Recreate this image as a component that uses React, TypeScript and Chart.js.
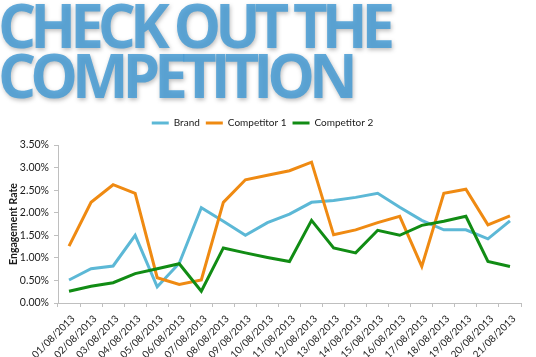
import React, { useEffect, useRef } from 'react';
import { Chart, registerables } from 'chart.js';

Chart.register(...registerables);

const categories = [
  '01/08/2013', '02/08/2013', '03/08/2013', '04/08/2013', '05/08/2013', '06/08/2013', '07/08/2013',
  '08/08/2013', '09/08/2013', '10/08/2013', '11/08/2013', '12/08/2013', '13/08/2013', '14/08/2013',
  '15/08/2013', '16/08/2013', '17/08/2013', '18/08/2013', '19/08/2013', '20/08/2013', '21/08/2013',
];

const brand = [0.51, 0.76, 0.82, 1.5, 0.36, 0.88, 2.11, 1.81, 1.5, 1.78, 1.97, 2.23, 2.27, 2.34, 2.43, 2.12, 1.83, 1.62, 1.62, 1.42, 1.82];
const competitor1 = [1.26, 2.23, 2.62, 2.43, 0.56, 0.41, 0.51, 2.23, 2.73, 2.83, 2.93, 3.12, 1.51, 1.62, 1.78, 1.92, 0.81, 2.43, 2.52, 1.73, 1.93];
const competitor2 = [0.26, 0.37, 0.45, 0.65, 0.76, 0.87, 0.26, 1.22, 1.11, 1.01, 0.92, 1.83, 1.22, 1.11, 1.61, 1.5, 1.72, 1.81, 1.92, 0.92, 0.81];

const seriesNames = ['Brand', 'Competitor 1', 'Competitor 2'];
const yTicks = { min: 0, max: 3.5, step: 0.5 };

const titleLines = ['CHECK OUT THE', 'COMPETITION'];

const axisColor = '#bfbfbf';
const textColor = '#1a1a1a';
const fontFamily = 'Lato, "Open Sans", sans-serif';

function TitleLine({ text }: { text: string }) {
  return (
    <div style={{ whiteSpace: 'pre', height: 50 }}>
      {text.split('').map((ch, i) => (
        <span key={i} style={{ color: 'rgba(70,155,212,0.85)', letterSpacing: -6 }}>
          {ch}
        </span>
      ))}
    </div>
  );
}

const legendSpacer = {
  id: 'legendSpacer',
  beforeInit(chart: any) {
    const legend = chart.legend;
    if (!legend) return;
    const origFit = legend.fit;
    legend.fit = function () {
      origFit.call(this);
      this.height = 33;
    };
  },
};

export default function App() {
  const ref = useRef<HTMLCanvasElement>(null);

  useEffect(() => {
    if (!ref.current) return;
    const chart = new Chart(ref.current, {
      type: 'line',
      data: {
        labels: categories,
        datasets: [
          { label: seriesNames[0], data: brand, borderColor: '#5cb8d6', backgroundColor: '#5cb8d6', borderWidth: 3, pointRadius: 0, tension: 0, order: 2 },
          { label: seriesNames[1], data: competitor1, borderColor: '#ef8a12', backgroundColor: '#ef8a12', borderWidth: 3, pointRadius: 0, tension: 0, order: 1 },
          { label: seriesNames[2], data: competitor2, borderColor: '#118c14', backgroundColor: '#118c14', borderWidth: 3, pointRadius: 0, tension: 0, order: 0 },
        ],
      },
      plugins: [legendSpacer],
      options: {
        responsive: false,
        animation: false,
        layout: { padding: { left: 4, right: 15, top: 2, bottom: 0 } },
        plugins: {
          tooltip: { enabled: false },
          legend: {
            display: true,
            position: 'top',
            labels: {
              boxWidth: 17,
              boxHeight: 3,
              padding: 6,
              color: textColor,
              font: { family: fontFamily, size: 10 },
              sort: (a: any, b: any) => a.datasetIndex - b.datasetIndex,
              generateLabels: (c: any) =>
                Chart.defaults.plugins.legend.labels.generateLabels(c).map((l: any) => ({
                  ...l,
                  lineWidth: 0,
                  fillStyle: l.strokeStyle,
                })),
            },
          },
        },
        scales: {
          x: {
            offset: true,
            grid: { offset: true, drawOnChartArea: false, tickLength: 4, color: axisColor },
            border: { color: axisColor },
            ticks: {
              autoSkip: false,
              minRotation: 45,
              maxRotation: 45,
              padding: 6,
              labelOffset: 4,
              color: textColor,
              font: { family: fontFamily, size: 10 },
            },
            afterFit: (s: any) => {
              s.height = 54;
            },
          },
          y: {
            min: yTicks.min,
            max: yTicks.max,
            grid: { drawOnChartArea: false, tickLength: 4, color: axisColor },
            border: { color: axisColor },
            ticks: {
              stepSize: yTicks.step,
              padding: 5,
              color: textColor,
              font: { family: fontFamily, size: 10.5 },
              callback: (v: any) => Number(v).toFixed(2) + '%',
            },
            title: {
              display: true,
              text: 'Engagement Rate',
              color: textColor,
              font: { family: fontFamily, size: 10.5, weight: 'bold' },
              padding: { top: 3, bottom: 4 },
            },
            afterFit: (s: any) => {
              s.width = 54;
            },
          },
        },
      },
    });
    return () => chart.destroy();
  }, []);

  return (
    <div style={{ position: 'fixed', left: 0, top: 0, width: 536, height: 357, background: '#fff', overflow: 'hidden' }}>
      <div
        style={{
          position: 'absolute',
          left: -2,
          top: 0,
          fontFamily: '"Open Sans", sans-serif',
          fontWeight: 700,
          fontSize: 60,
          lineHeight: '50px',
          filter: 'drop-shadow(1px 2px 2px rgba(0,0,0,0.3))',
        }}
      >
        {titleLines.map((t, i) => (
          <TitleLine key={i} text={t} />
        ))}
      </div>
      <canvas ref={ref} width={536} height={247} style={{ position: 'absolute', left: 0, top: 110, display: 'block' }} />
    </div>
  );
}
